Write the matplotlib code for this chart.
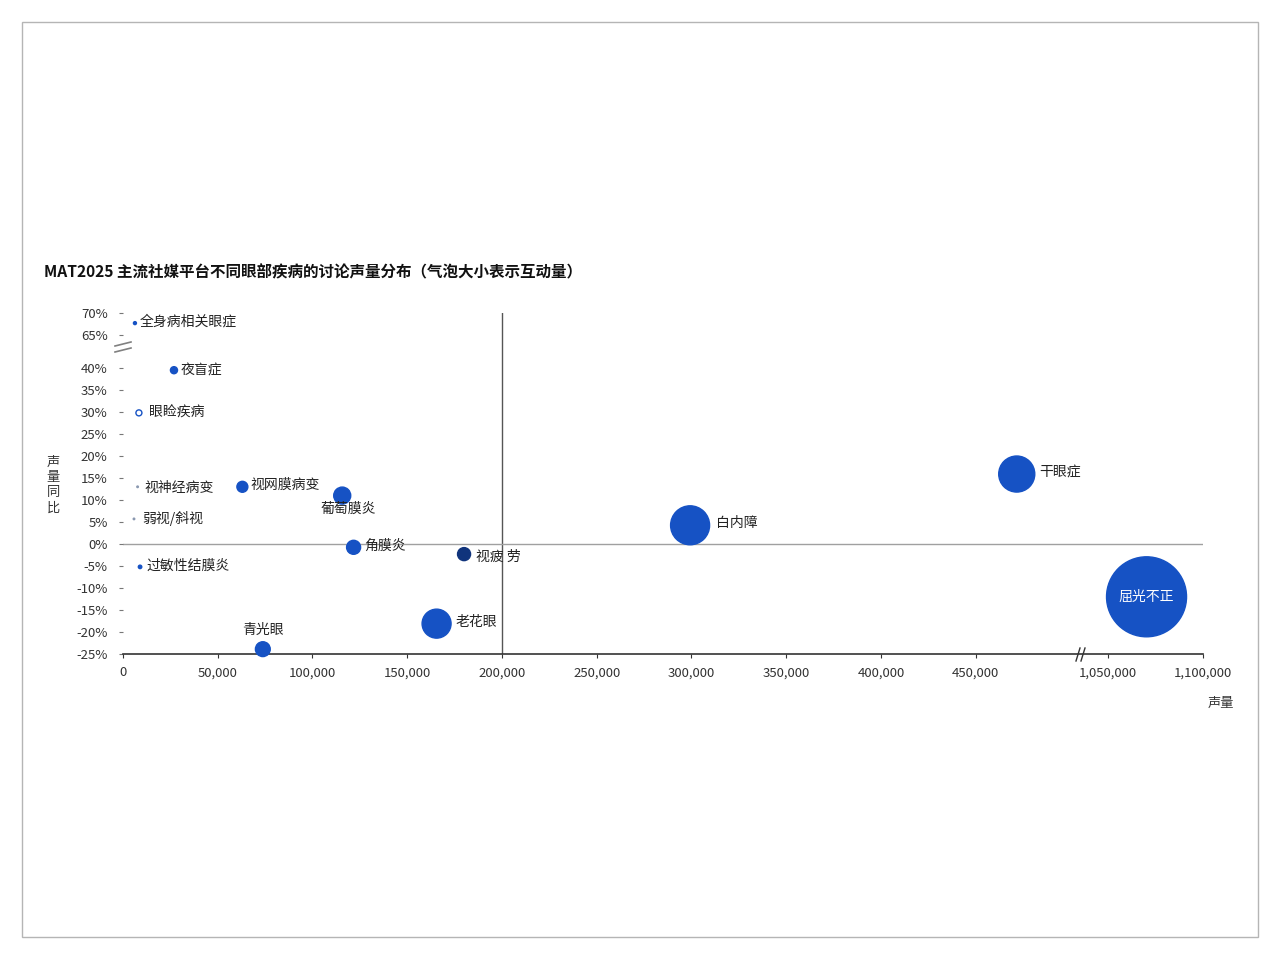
import matplotlib
matplotlib.use("Agg")
import matplotlib.pyplot as plt
from matplotlib.patches import Rectangle
from matplotlib.lines import Line2D
import numpy as np

plt.rcParams['font.family'] = ['Noto Sans CJK SC', 'DejaVu Sans']

# 数据
diseases = ["全身病相关眼症", "夜盲症", "眼睑疾病", "视神经病变", "弱视/斜视", "过敏性结膜炎",
            "视网膜病变", "葡萄膜炎", "角膜炎", "视疲劳", "老花眼", "青光眼",
            "白内障", "干眼症", "屈光不正"]
volume = [6300, 26900, 8400, 7700, 5800, 9000,
          63000, 115700, 121700, 180000, 165500, 73800,
          299300, 471700, 1070200]
yoy = [67.7, 39.5, 29.8, 13.0, 5.7, -5.2,
       13.0, 11.0, -0.75, -2.3, -18.1, -23.9,
       4.25, 15.9, -12.0]
interaction = [0.45, 2.5, 1.8, 0.12, 0.12, 0.6,
               6.0, 14.5, 9.8, 8.5, 42, 11,
               76, 65, 320]

x_ticks = [0, 50000, 100000, 150000, 200000, 250000, 300000, 350000, 400000, 450000, 1050000, 1100000]
y_ticks = [-25, -20, -15, -10, -5, 0, 5, 10, 15, 20, 25, 30, 35, 40, 65, 70]

BLUE = "#1652c4"


# 断轴变换
def fx(v):
    v = np.asarray(v, dtype=float)
    return np.where(v > 700000, v - 530000, v)


def fy(v):
    v = np.asarray(v, dtype=float)
    return np.where(v > 50, v - 17.5, v)


fig = plt.figure(figsize=(12.8, 9.6), dpi=100)
ax = fig.add_axes([123 / 1280, 1 - 654 / 960, 1080 / 1280, 341 / 960])

ax.set_xlim(0, 570000)
ax.set_ylim(-25, 52.5)

ax.axvline(200000, color="#555555", lw=1, zorder=1)
ax.axhline(0, color="#a0a0a0", lw=1, zorder=1)

colors = [BLUE] * len(diseases)
colors[diseases.index("视疲劳")] = "#10347c"
colors[diseases.index("视神经病变")] = "#8a98b0"
colors[diseases.index("弱视/斜视")] = "#8a98b0"
faces = list(colors)
faces[diseases.index("眼睑疾病")] = "white"

sizes = np.array(interaction) * 20 * 0.72 ** 2
ax.scatter(fx(volume), fy(yoy), s=sizes, c=faces, edgecolors=colors,
           linewidths=1, zorder=3, clip_on=False)

# 标签位置（像素偏移）
offsets = {
    "全身病相关眼症": (5, 2, "left"), "夜盲症": (7, 0, "left"), "眼睑疾病": (10, 0, "left"),
    "视神经病变": (7, -1, "left"), "弱视/斜视": (8, 0, "left"), "过敏性结膜炎": (6, 1, "left"),
    "视网膜病变": (8.5, 1.5, "left"), "葡萄膜炎": (6.5, -13.5, "center"), "角膜炎": (11, 1, "left"),
    "视疲劳": (11.5, -3, "left"), "老花眼": (19, 1.5, "left"), "青光眼": (0, 19, "center"),
    "白内障": (26, 2, "left"), "干眼症": (23, 2, "left"),
}
for name, xv, yv in zip(diseases, fx(volume), fy(yoy)):
    if name == "屈光不正":
        ax.text(xv, yv, name, color="white", fontsize=10, ha="center", va="center", zorder=4)
        continue
    dx, dy, ha = offsets[name]
    label = "视疲 劳" if name == "视疲劳" else name
    ax.annotate(label, (xv, yv), xytext=(dx, dy), textcoords="offset pixels",
                ha=ha, va="center", fontsize=10, color="#222222", zorder=4)

ax.set_xticks(fx(x_ticks))
ax.set_xticklabels([f"{v:,}" for v in x_ticks])
ax.set_yticks(fy(y_ticks))
ax.set_yticklabels([f"{v}%" for v in y_ticks])

for s in ["top", "right", "left"]:
    ax.spines[s].set_visible(False)
ax.spines["bottom"].set_color("#333333")
ax.spines["bottom"].set_linewidth(1.2)
ax.tick_params(axis="x", length=3, color="#333333", labelsize=9.5, labelcolor="#333333", pad=6)
ax.tick_params(axis="y", length=3, color="#777777", labelsize=9.5, labelcolor="#333333", pad=8)

# 断轴标记
def px(xp, yp):
    return (xp - 123) / 1080, (654 - yp) / 341

for x0 in (1076, 1081):
    (a, b), (c, d) = px(x0, 661), px(x0 + 4, 648)
    ax.add_line(Line2D([a, c], [b, d], transform=ax.transAxes, color="#333333", lw=1, clip_on=False))
for y0 in (346, 352):
    (a, b), (c, d) = px(115, y0), px(131, y0 - 4)
    ax.add_line(Line2D([a, c], [b, d], transform=ax.transAxes, color="#808080", lw=1.2, clip_on=False))

fig.text(44 / 1280, 1 - 272 / 960,
         "MAT2025 主流社媒平台不同眼部疾病的讨论声量分布（气泡大小表示互动量）",
         fontsize=11.2, fontweight="bold", va="center", ha="left", color="#111111")
fig.text(53 / 1280, 1 - 485 / 960, "声\n量\n同\n比", fontsize=9.5, ha="center", va="center",
         linespacing=1.22, color="#333333")
fig.text(1234 / 1280, 1 - 703 / 960, "声量", fontsize=9.5, ha="right", va="center", color="#333333")

fig.add_artist(Rectangle((22 / 1280, 1 - 937 / 960), 1236 / 1280, 915 / 960,
                         transform=fig.transFigure, fill=False, edgecolor="#b5b5b5", lw=1))

fig.savefig("out.png", dpi=100, facecolor="white")
